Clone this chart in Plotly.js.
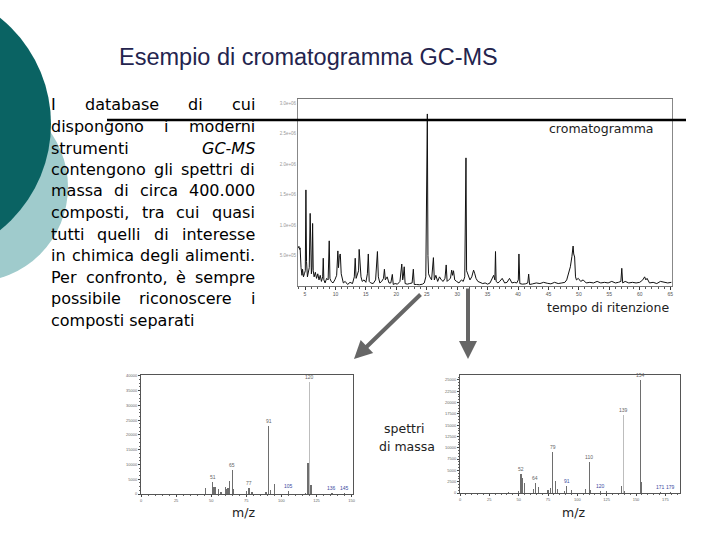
<!DOCTYPE html>
<html><head><meta charset="utf-8">
<script src="https://cdn.plot.ly/plotly-3.0.1.min.js"></script>
<style>html,body{margin:0;padding:0;background:#fff;} #chart{width:720px;height:540px;}</style>
</head><body><div id="chart"></div>
<script>
// ---------- DATA ----------
const chromTime = [
 3.9,4.0,4.1,4.2,4.35,4.5,4.6,4.75,4.9,5.05,5.15,5.25,5.4,5.55,5.7,5.85,5.95,6.05,6.15,6.25,6.35,6.5,6.7,6.9,7.1,7.3,7.5,7.7,7.9,
 8.0,8.1,8.3,8.55,8.8,8.98,9.1,9.3,9.6,9.9,10.2,10.4,10.5,10.65,10.8,10.95,11.1,11.3,11.6,12.0,12.4,12.8,
 13.1,13.25,13.4,13.6,13.8,13.9,14.05,14.2,14.4,14.7,15.0,15.25,15.4,15.55,15.8,16.2,16.6,16.9,17.05,17.3,17.6,17.9,18.05,18.2,18.5,18.8,19.1,19.35,19.5,19.8,
 20.2,20.6,20.9,21.05,21.15,21.3,21.45,21.8,22.2,22.6,22.8,22.95,23.3,23.8,24.3,24.6,24.85,
 25.0,25.1,25.2,25.3,25.5,25.8,26.1,26.25,26.5,26.8,27.1,27.4,27.7,28.0,28.2,28.35,28.6,28.9,29.1,29.25,29.4,29.6,29.9,30.3,30.7,31.0,
 31.25,31.37,31.45,31.55,31.8,32.1,32.4,32.7,32.9,33.1,33.4,33.8,34.2,34.6,35.0,35.4,35.8,
 36.0,36.2,36.3,36.4,36.7,37.0,37.4,37.8,38.2,38.6,39.0,39.4,39.8,40.05,40.15,40.3,40.7,41.2,41.6,41.75,41.9,
 42.4,43.0,43.6,44.2,44.8,45.4,46.0,46.6,47.2,47.7,48.0,48.3,48.6,48.85,49.05,49.15,49.3,49.45,49.6,49.9,
 50.3,50.7,51.2,51.8,52.4,53.0,53.6,54.2,54.8,55.4,56.0,56.5,56.9,57.05,57.2,57.6,58.2,58.8,59.4,60.0,60.5,60.8,61.0,61.2,61.6,62.2,62.8,63.4,64.0,64.6,65.2
];
const chromSignal = [
 1.25,1.3,1.2,1.25,0.6,0.35,0.55,0.3,0.4,0.5,3.15,0.8,0.3,0.45,0.6,2.38,0.7,0.4,0.6,2.05,0.5,0.3,0.45,0.25,0.4,0.2,0.35,0.15,0.3,
 0.91,0.2,0.1,0.25,0.2,1.48,0.25,0.15,0.1,0.2,0.35,1.15,0.6,1.0,1.05,0.4,0.2,0.1,0.15,0.05,0.12,0.08,
 0.3,0.91,0.25,0.35,0.5,1.2,0.7,0.3,0.15,0.2,0.12,0.4,1.05,0.15,0.1,0.08,0.2,1.13,0.3,0.1,0.15,0.25,0.55,0.2,0.3,0.1,0.1,0.38,0.05,0.08,
 0.06,0.15,0.72,0.2,0.3,0.63,0.08,0.06,0.08,0.1,0.55,0.05,0.05,0.04,0.06,0.1,0.3,
 3.64,5.64,1.0,0.4,0.3,0.2,0.93,0.2,0.35,0.15,0.3,0.2,0.15,0.25,0.69,0.15,0.2,0.25,0.52,0.35,0.5,0.2,0.15,0.1,0.2,0.15,
 0.3,2.11,4.2,0.5,0.35,0.2,0.3,0.52,0.4,0.25,0.15,0.12,0.08,0.1,0.06,0.1,0.3,
 0.35,0.2,1.13,0.15,0.1,0.15,0.25,0.1,0.12,0.25,0.1,0.12,0.1,0.2,1.05,0.08,0.06,0.07,0.1,0.39,0.05,
 0.07,0.1,0.08,0.12,0.09,0.07,0.12,0.08,0.1,0.12,0.2,0.4,0.63,0.96,1.31,1.05,0.95,0.3,0.2,0.25,
 0.15,0.2,0.1,0.12,0.1,0.15,0.1,0.12,0.1,0.15,0.1,0.12,0.15,0.58,0.1,0.15,0.1,0.12,0.1,0.12,0.2,0.3,0.2,0.25,0.1,0.12,0.08,0.15,0.12,0.1,0.12
];
const chromXTicks = [5,10,15,20,25,30,35,40,45,50,55,60,65];
const chromYTicks = [1,2,3,4,5,6];
const chromYLabels = ["5.0e+05","1.0e+06","1.5e+06","2.0e+06","2.5e+06","3.0e+06"];

const spec1Mz  = [46,51,52,53,55,57,60,61,62,63,65,66,75,77,79,89,91,92,95,105,117,119,120,121,136,145];
const spec1Int = [2000,4100,2500,2300,1700,600,2300,1700,2000,4500,8200,1700,900,2000,800,700,22900,1500,3400,900,500,10400,38000,3000,400,400];
const spec1Labels = [51,65,77,91,105,120,136,145];
const spec1XTicks = [0,25,50,75,100,125,150];
const spec1YTicks = [0,5000,10000,15000,20000,25000,30000,35000,40000];

const spec2Mz  = [41,50,52,53,55,63,64,67,75,77,79,81,83,89,91,95,107,110,111,120,125,138,139,140,154,155,171,179];
const spec2Int = [300,500,4260,3300,2200,900,2200,1320,600,1100,8970,2720,950,500,1470,600,800,6760,700,370,400,1470,17270,500,25000,2350,150,150];
const spec2Labels = [52,64,79,91,110,120,139,154,171,179];
const spec2XTicks = [0,25,50,75,100,125,150,175];
const spec2YTicks = [0,2500,5000,7500,10000,12500,15000,17500,20000,22500,25000];

const titleText = "Esempio di cromatogramma GC-MS";
const bodyLines = ["I database di cui","dispongono i moderni","strumenti <i>GC-MS</i>","contengono gli spettri di","massa di circa 400.000","composti, tra cui quasi","tutti quelli di interesse","in chimica degli alimenti.","Per confronto, è sempre","possibile riconoscere i","composti separati"];

// ---------- HELPERS ----------
const W = 720, H = 540;
const px = v => v / W;
const py = v => 1 - v / H;

const lightMz1 = 120, lightMz2 = 139;
const barColors = (mz, light) => mz.map(m => m === light ? '#bdbdbd' : '#6e6e6e');

const traces = [
  {x: chromTime, y: chromSignal, xaxis: 'x', yaxis: 'y', type: 'scatter', mode: 'lines',
   line: {color: '#111', width: 1}, hoverinfo: 'skip'},
  {x: spec1Mz, y: spec1Int, xaxis: 'x2', yaxis: 'y2', type: 'bar', width: 0.9,
   marker: {color: barColors(spec1Mz, lightMz1), line: {width: 0}}},
  {x: spec2Mz, y: spec2Int, xaxis: 'x3', yaxis: 'y3', type: 'bar', width: 0.9,
   marker: {color: barColors(spec2Mz, lightMz2), line: {width: 0}}}
];

const ann = [];
function paperText(text, x, y, font, xanchor) {
  ann.push({text: text, xref: 'paper', yref: 'paper', x: px(x), y: py(y), xanchor: xanchor || 'center',
    yanchor: 'middle', showarrow: false, borderpad: 0, font: font});
}
// title
paperText(titleText, 308, 57, {family: 'Liberation Sans, Arial, sans-serif', size: 23.5, color: '#24244e'});

// justified body text
const bodyFont = '"DejaVu Sans"';
const bodySize = 16;
const cv = document.createElement('canvas').getContext('2d');
function measure(w) {
  const italic = w.indexOf('<i>') >= 0;
  const plain = w.replace(/<\/?i>/g, '');
  cv.font = (italic ? 'italic ' : '') + bodySize + 'px ' + bodyFont;
  return cv.measureText(plain).width;
}
const bf = {family: 'DejaVu Sans', size: bodySize, color: '#000'};
const leftX = 50, rightX = 254, firstY = 105, lineStep = 21.5;
bodyLines.forEach((line, i) => {
  const yy = firstY + i * lineStep;
  const words = line.split(' ');
  const last = i === bodyLines.length - 1;
  if (last || words.length < 2) {
    paperText(line, leftX, yy, bf, 'left');
    return;
  }
  const widths = words.map(measure);
  const total = widths.reduce((a, b) => a + b, 0);
  const gap = (rightX - leftX - total) / (words.length - 1);
  let cx = leftX;
  words.forEach((w, k) => {
    paperText(w, cx, yy, bf, 'left');
    cx += widths[k] + gap;
  });
});

// captions
const capFont = {family: 'DejaVu Sans', size: 12.5, color: '#222'};
paperText('cromatogramma', 601, 128, capFont);
paperText('tempo di ritenzione', 608, 307, capFont);
paperText('spettri', 404, 428, capFont);
paperText('di massa', 407, 446, capFont);
paperText('m/z', 243, 512, capFont);
paperText('m/z', 573, 512, capFont);

// arrows
ann.push({text: '', xref: 'paper', yref: 'paper', x: px(354), y: py(359), ax: 68, ay: -66, axref: 'pixel', ayref: 'pixel',
  showarrow: true, arrowhead: 2, arrowsize: 0.9, arrowwidth: 4, arrowcolor: '#666', standoff: 0});
ann.push({text: '', xref: 'paper', yref: 'paper', x: px(468), y: py(359), ax: 0, ay: -72, axref: 'pixel', ayref: 'pixel',
  showarrow: true, arrowhead: 2, arrowsize: 0.9, arrowwidth: 4, arrowcolor: '#666', standoff: 0});

// peak labels
function peakLabels(mzs, ints, labels, xr, yr) {
  labels.forEach(m => {
    const idx = mzs.indexOf(m);
    const v = ints[idx];
    ann.push({text: String(m), x: m, y: v, xref: xr, yref: yr, xanchor: 'center', yanchor: 'bottom',
      showarrow: false, yshift: 1, borderpad: 0,
      font: {family: 'Liberation Sans, Arial', size: 5, color: v < 1500 ? '#3a4aa0' : '#666'}});
  });
}
peakLabels(spec1Mz, spec1Int, spec1Labels, 'x2', 'y2');
peakLabels(spec2Mz, spec2Int, spec2Labels, 'x3', 'y3');

const shapes = [
  {type: 'circle', xref: 'paper', yref: 'paper', layer: 'below', x0: px(-122), x1: px(68), y0: py(282), y1: py(92),
   fillcolor: '#9fcbcc', line: {width: 0}},
  {type: 'circle', xref: 'paper', yref: 'paper', layer: 'below', x0: px(-221), x1: px(51), y0: py(260), y1: py(-12),
   fillcolor: '#0a6363', line: {width: 0}},
  {type: 'line', xref: 'paper', yref: 'paper', layer: 'above', x0: px(107), x1: px(686), y0: py(120), y1: py(120),
   line: {color: '#000', width: 2.5}}
];

const tinyFont = {family: 'Liberation Sans, Arial', size: 5, color: '#555'};
const specTick = {family: 'Liberation Sans, Arial', size: 4, color: '#666'};
const layout = {
  width: W, height: H, margin: {l: 0, r: 0, t: 0, b: 0},
  paper_bgcolor: '#fff', plot_bgcolor: 'rgba(0,0,0,0)', showlegend: false, bargap: 0,
  xaxis: {domain: [px(298), px(672)], range: [3.85, 65.3], anchor: 'y', tickmode: 'array', tickvals: chromXTicks,
    ticktext: chromXTicks.map(String), tickfont: tinyFont, ticks: 'outside', ticklen: 3, tickcolor: '#333',
    showline: true, linecolor: '#777', linewidth: 1, mirror: true, showgrid: false, zeroline: false,
    minor: {ticks: 'outside', ticklen: 1.5, dtick: 1, tickcolor: '#555'}},
  yaxis: {domain: [py(286), py(99)], range: [0, 6.13], anchor: 'x', tickmode: 'array', tickvals: chromYTicks,
    ticktext: chromYLabels, tickfont: {family: 'Liberation Sans, Arial', size: 4.5, color: '#999'}, ticks: '',
    showline: true, linecolor: '#888', linewidth: 1, mirror: true, showgrid: false, zeroline: false},
  xaxis2: {domain: [px(141), px(353)], range: [0, 151], anchor: 'y2', tickmode: 'array', tickvals: spec1XTicks,
    ticktext: spec1XTicks.map(String), tickfont: specTick,
    ticks: 'outside', ticklen: 2, tickcolor: '#444', showline: true, linecolor: '#555', mirror: true,
    showgrid: false, zeroline: false, minor: {ticks: 'outside', ticklen: 1, dtick: 5, tickcolor: '#666'}},
  yaxis2: {domain: [py(494), py(375)], range: [0, 40300], anchor: 'x2', tickmode: 'array', tickvals: spec1YTicks,
    ticktext: spec1YTicks.map(String), tickfont: specTick,
    ticks: 'outside', ticklen: 2, tickcolor: '#444', showline: true, linecolor: '#555', mirror: true,
    showgrid: false, zeroline: false, minor: {ticks: 'outside', ticklen: 1, dtick: 1250, tickcolor: '#666'}},
  xaxis3: {domain: [px(460), px(680)], range: [0, 187.5], anchor: 'y3', tickmode: 'array', tickvals: spec2XTicks,
    ticktext: spec2XTicks.map(String), tickfont: specTick,
    ticks: 'outside', ticklen: 2, tickcolor: '#444', showline: true, linecolor: '#555', mirror: true,
    showgrid: false, zeroline: false, minor: {ticks: 'outside', ticklen: 1, dtick: 5, tickcolor: '#666'}},
  yaxis3: {domain: [py(493), py(375)], range: [0, 26100], anchor: 'x3', tickmode: 'array', tickvals: spec2YTicks,
    ticktext: spec2YTicks.map(String), tickfont: specTick,
    ticks: 'outside', ticklen: 2, tickcolor: '#444', showline: true, linecolor: '#555', mirror: true,
    showgrid: false, zeroline: false, minor: {ticks: 'outside', ticklen: 1, dtick: 625, tickcolor: '#666'}},
  annotations: ann,
  shapes: shapes
};

Plotly.newPlot('chart', traces, layout, {staticPlot: true, displayModeBar: false});
</script></body></html>
